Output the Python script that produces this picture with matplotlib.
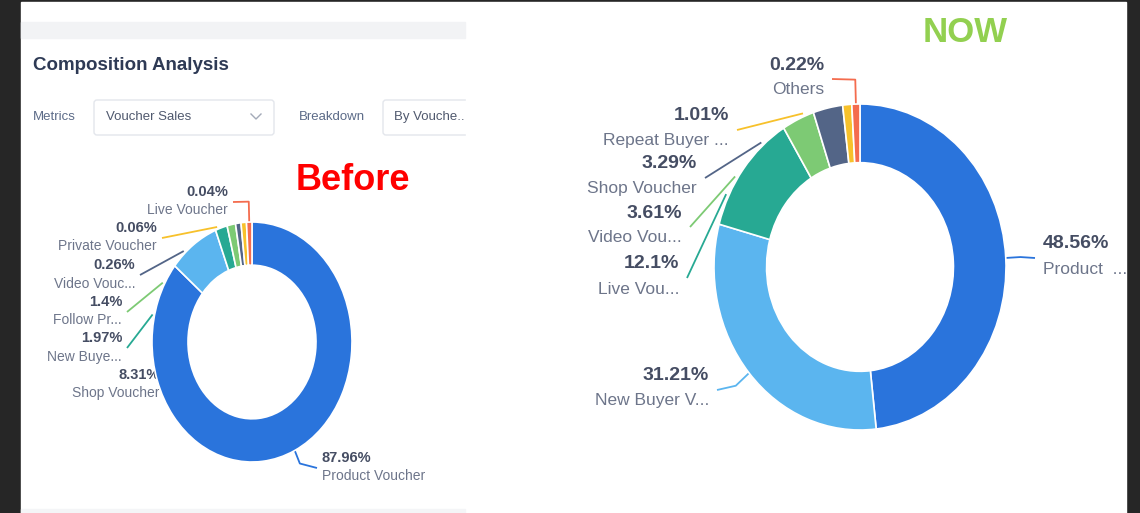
import matplotlib.pyplot as plt
from matplotlib.patches import Rectangle, FancyBboxPatch
import numpy as np

plt.rcParams['font.family'] = ['Liberation Sans', 'DejaVu Sans']

# data
before_names = ["Product Voucher", "Shop Voucher", "New Buye...", "Follow Pr...",
                "Video Vouc...", "Private Voucher", "Live Voucher"]
before_pct = [87.96, 8.31, 1.97, 1.4, 0.26, 0.06, 0.04]

now_names = ["Product  ...", "New Buyer V...", "Live Vou...", "Video Vou...",
             "Shop Voucher", "Repeat Buyer ...", "Others"]
now_pct = [48.56, 31.21, 12.1, 3.61, 3.29, 1.01, 0.22]

colors = ["#2a74dc", "#5bb5ef", "#27a993", "#7dca74", "#536587", "#f7c12b", "#f46c4e"]
min_share = 0.9  # smallest slice drawn, like a min angle

# label layout (pixel positions of leader line ends)
before_layout = [
    dict(end=(317, 468), side='right', start=None, r1=1.12),
    dict(end=(165, 385), side='left', start=None, noline=True),
    dict(end=(127, 348), side='left', start=283),
    dict(end=(127, 312), side='left', start=299),
    dict(end=(140, 275), side='left', start=318),
    dict(end=(162, 238), side='left', start=340),
    dict(end=(233, 202), side='left', start=None, r1=1.17),
]
now_layout = [
    dict(end=(1035, 258), side='right', start=None, r1=1.1),
    dict(end=(717, 390), side='left', start=None, r1=1.12),
    dict(end=(687, 278), side='left', start=296),
    dict(end=(690, 227), side='left', start=303),
    dict(end=(705, 178), side='left', start=318.5),
    dict(end=(737, 130), side='left', start=337.5),
    dict(end=(832, 79), side='left', start=None, r1=1.15),
]

W, H = 1140, 513
fig = plt.figure(figsize=(W / 100, H / 100), dpi=100, facecolor="#262626")
bg = fig.add_axes([0, 0, 1, 1])
bg.set_xlim(0, W)
bg.set_ylim(H, 0)
bg.axis('off')
bg.set_facecolor("none")

bg.add_patch(Rectangle((21, 2), 1105, 511, color="white", zorder=0))
bg.add_patch(Rectangle((21, 22), 444, 16, color="#f2f3f5", zorder=0.5))
bg.add_patch(Rectangle((21, 509), 444, 4, color="#f4f5f7", zorder=0.5))

# header of the left screenshot
bg.text(33, 65, "Composition Analysis", fontsize=13.5, fontweight='bold',
        color="#2e3a55", va='center')
bg.text(33, 117, "Metrics", fontsize=9.5, color="#5c6b88", va='center')
bg.add_patch(FancyBboxPatch((94, 100), 180, 35, boxstyle="round,pad=0,rounding_size=3",
                            fc="white", ec="#e3e6ec", lw=1))
bg.text(106, 117, "Voucher Sales", fontsize=9.5, color="#50596e", va='center')
bg.plot([251, 256, 261], [114, 119, 114], color="#a3aab8", lw=1)
bg.text(299, 117, "Breakdown", fontsize=9.5, color="#5c6b88", va='center')
bg.add_patch(FancyBboxPatch((383, 100), 100, 35, boxstyle="round,pad=0,rounding_size=3",
                            fc="white", ec="#e3e6ec", lw=1))
bg.text(394, 117, "By Vouche..", fontsize=9.5, color="#50596e", va='center')
bg.add_patch(Rectangle((466, 95), 20, 45, color="white", zorder=3))

bg.text(296, 181, "Before", fontsize=26, fontweight='bold', color="#ff0000", va='center')
bg.text(923, 32, "NOW", fontsize=25, fontweight='bold', color="#92d050", va='center')


def donut(cx, cy, rx, ry, values, names, layout, psize, nsize, dy_p, dy_n, gap):
    pax = fig.add_axes([(cx - rx) / W, (H - cy - ry) / H, 2 * rx / W, 2 * ry / H])
    shown = np.maximum(values, min_share)
    wedges, _ = pax.pie(shown, colors=colors, startangle=90, counterclock=False,
                        radius=1, wedgeprops=dict(width=0.36, edgecolor="white", linewidth=1.2))
    pax.set_aspect('auto')
    pax.set_xlim(-1, 1)
    pax.set_ylim(-1, 1)
    pax.axis('off')
    to_bg = bg.transData.inverted()

    def pt(ang, r):
        th = np.deg2rad(90 - ang)
        return to_bg.transform(pax.transData.transform((r * np.cos(th), r * np.sin(th))))

    for w, v, name, lay in zip(wedges, values, names, layout):
        ex, ey = lay['end']
        col = w.get_facecolor()
        if not lay.get('noline'):
            if lay['start'] is None:
                mid = 90 - (w.theta1 + w.theta2) / 2
                p0, p1 = pt(mid, 1.0), pt(mid, lay['r1'])
                xs, ys = [p0[0], p1[0], ex], [p0[1], p1[1], ey]
            else:
                p0 = pt(lay['start'], 1.02)
                xs, ys = [p0[0], ex], [p0[1], ey]
            bg.plot(xs, ys, color=col, lw=1.3, zorder=2, solid_capstyle='butt')
        if lay['side'] == 'left':
            tx, ha = ex - gap, 'right'
        else:
            tx, ha = ex + gap, 'left'
        bg.text(tx, ey + dy_p, f"{v:g}%", fontsize=psize, fontweight='bold',
                color="#454d63", ha=ha, va='center', zorder=5)
        bg.text(tx, ey + dy_n, name, fontsize=nsize, color="#6d758a",
                ha=ha, va='center', zorder=5)


donut(252, 342, 100, 120, before_pct, before_names, before_layout, 10.5, 10, -10, 8.5, 5)
donut(860, 267, 146, 163, now_pct, now_names, now_layout, 14, 12.5, -14, 11, 8)

fig.savefig("out.png", dpi=100, facecolor=fig.get_facecolor())
